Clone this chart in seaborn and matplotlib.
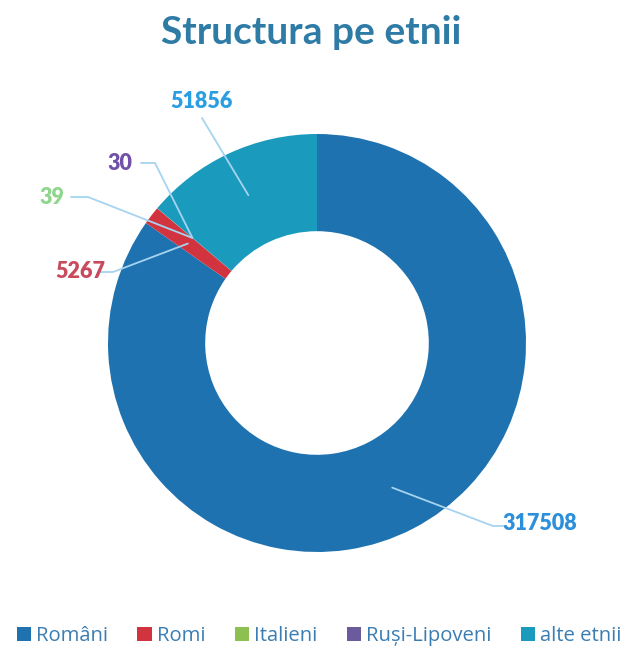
import numpy as np
import matplotlib.pyplot as plt
from matplotlib.patches import Patch
import seaborn as sns

# date
etnii = ['Români', 'Romi', 'Italieni', 'Ruși-Lipoveni', 'alte etnii']
valori = [317508, 5267, 39, 30, 51856]

culori = ['#1f72b0', '#d2343f', '#8cc152', '#6b5b9d', '#1a9bbd']
culori_etichete = ['#2b8fdc', '#c84a5c', '#8ed68c', '#7050a8', '#2a9ee3']

sns.set_theme(style='white')
plt.rcParams['font.family'] = ['Lato', 'DejaVu Sans']

W, H = 623, 652
fig = plt.figure(figsize=(W / 100, H / 100), dpi=100)
ax = fig.add_axes([0, 0, 1, 1])

# centrul si raza in pixeli (y de sus in jos)
cx, cy, R = 317, 343, 209
wedges, _ = ax.pie(valori, colors=culori, startangle=90, counterclock=False,
                   radius=R, center=(cx, H - cy),
                   wedgeprops=dict(width=R * 0.465, linewidth=0))
ax.set_xlim(0, W)
ax.set_ylim(0, H)
ax.axis('off')

# pozitii etichete (pixeli) si capetele liniilor de legatura
pozitii = [(540, 523), (80, 272), (52, 197), (120, 163), (202, 102)]
capete = [[(503, 526), (493, 526)],
          [(100, 272), (113, 272)],
          [(71, 197), (88, 197)],
          [(141, 163), (155, 163)],
          [(202, 118)]]

for w, val, col, (tx, ty), pts in zip(wedges, valori, culori_etichete, pozitii, capete):
    mid = np.deg2rad((w.theta1 + w.theta2) / 2)
    ax_ = cx + 0.78 * R * np.cos(mid)
    ay_ = (H - cy) + 0.78 * R * np.sin(mid)
    xs = [p[0] for p in pts] + [ax_]
    ys = [H - p[1] for p in pts] + [ay_]
    ax.plot(xs, ys, color='#a5d4f0', lw=1.3, solid_capstyle='round')
    ax.text(tx, H - ty, str(val), color=col, fontsize=15.5, fontweight='heavy',
            ha='center', va='center')

fig.text(0.5, 1 - 33 / H, 'Structura pe etnii', fontsize=28, fontweight='bold',
         color='#2e7ba6', ha='center', va='center')

handles = [Patch(facecolor=c, edgecolor='none') for c in culori]
fig.legend(handles, etnii, loc='center', bbox_to_anchor=(319 / W, 16 / H), ncol=5,
           frameon=False, prop={'family': 'Open Sans', 'size': 14.6},
           labelcolor='#3b7db2',
           handlelength=0.7, handleheight=0.7, handletextpad=0.25,
           columnspacing=1.45)

fig.savefig('out.png', dpi=100)
